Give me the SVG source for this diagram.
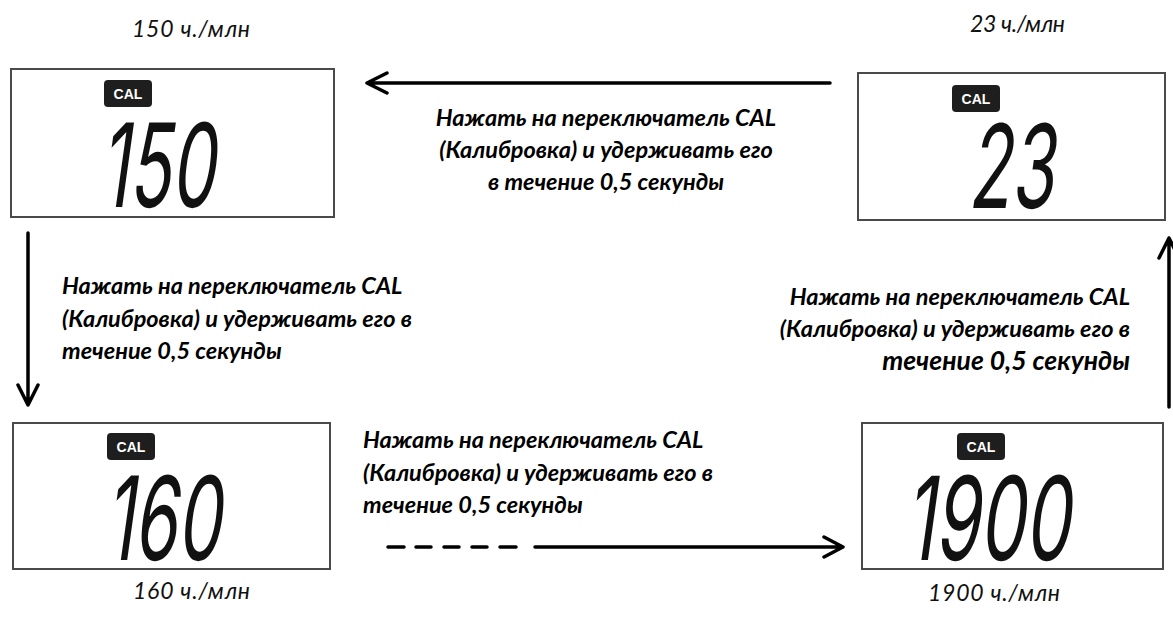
<svg xmlns="http://www.w3.org/2000/svg" width="1173" height="626" viewBox="0 0 1173 626">
<style>
.box{fill:#fff;stroke:#4a4a4a;stroke-width:2}
.badge{fill:#1e1e1e}
.badgetxt{fill:#fff;font-family:"Liberation Sans",Arial,sans-serif;font-weight:bold;font-size:14px;text-anchor:middle}
.lcd{fill:#111;font-family:Inter,"DejaVu Sans",sans-serif;font-weight:400;font-size:116px}
.val{fill:#111;font-family:Lato,"Open Sans",sans-serif;font-style:italic;font-size:23px}
.ins{fill:#000;font-family:Lato,"Open Sans",sans-serif;font-style:italic;font-weight:bold;font-size:23.5px}
.ln{stroke:#000;stroke-width:3.5;fill:none;stroke-linecap:round;stroke-linejoin:round}
</style>
<rect width="1173" height="626" fill="#fff"/>
<g id="node-150">
<rect class="box" x="11" y="69" width="323" height="148"/>
<rect class="badge" x="104" y="80" width="48" height="27" rx="4"/>
<text class="badgetxt" x="128" y="99">CAL</text>
<text class="lcd" transform="translate(100,207) skewX(-8) scale(0.6,1)">150</text>
<text class="val" x="132" y="37" textLength="118" lengthAdjust="spacing">150 ч./млн</text>
</g>
<g id="node-23">
<rect class="box" x="858" y="73" width="307" height="147"/>
<rect class="badge" x="952" y="85" width="48" height="27" rx="4"/>
<text class="badgetxt" x="976" y="104">CAL</text>
<text class="lcd" transform="translate(968,208) skewX(-8) scale(0.6,1)">23</text>
<text class="val" x="970" y="32" textLength="95" lengthAdjust="spacing">23 ч./млн</text>
</g>
<g id="node-160">
<rect class="box" x="13" y="423" width="317" height="146"/>
<rect class="badge" x="107" y="433" width="48" height="27" rx="4"/>
<text class="badgetxt" x="131" y="452">CAL</text>
<text class="lcd" transform="translate(105,560) skewX(-8) scale(0.6,1)">160</text>
<text class="val" x="133" y="599" textLength="117" lengthAdjust="spacing">160 ч./млн</text>
</g>
<g id="node-1900">
<rect class="box" x="862" y="423" width="301" height="146"/>
<rect class="badge" x="957" y="433" width="48" height="27" rx="4"/>
<text class="badgetxt" x="981" y="452">CAL</text>
<text class="lcd" transform="translate(905,560) skewX(-8) scale(0.62,1)">1900</text>
<text class="val" x="928" y="601" textLength="132" lengthAdjust="spacing">1900 ч./млн</text>
</g>
<g id="connectors">
<path class="ln" d="M830 83 H367 M387 73 L367 83 L387 93"/>
<path class="ln" d="M28 233 V405 M18 385 L28 405 L38 385"/>
<path class="ln" d="M1169 407 V238 M1159 258 L1169 238 L1179 258"/>
<path class="ln" d="M388 547 H404 M416 547 H431 M444 547 H459 M472 547 H487 M500 547 H516"/>
<path class="ln" d="M535 547 H843 M824 537 L843 547 L824 557"/>
</g>
<g id="labels">
<text class="ins" text-anchor="middle" x="606" y="126">Нажать на переключатель CAL</text>
<text class="ins" text-anchor="middle" x="606" y="158">(Калибровка) и удерживать его</text>
<text class="ins" text-anchor="middle" x="606" y="190">в течение 0,5 секунды</text>
<text class="ins" x="62" y="294">Нажать на переключатель CAL</text>
<text class="ins" x="62" y="327">(Калибровка) и удерживать его в</text>
<text class="ins" x="62" y="359">течение 0,5 секунды</text>
<text class="ins" text-anchor="end" x="1130" y="305">Нажать на переключатель CAL</text>
<text class="ins" text-anchor="end" x="1130" y="337">(Калибровка) и удерживать его в</text>
<text class="ins" text-anchor="end" x="1130" y="370" style="font-size:26.5px">течение 0,5 секунды</text>
<text class="ins" x="363" y="448">Нажать на переключатель CAL</text>
<text class="ins" x="363" y="481">(Калибровка) и удерживать его в</text>
<text class="ins" x="363" y="513">течение 0,5 секунды</text>
</g>
</svg>
